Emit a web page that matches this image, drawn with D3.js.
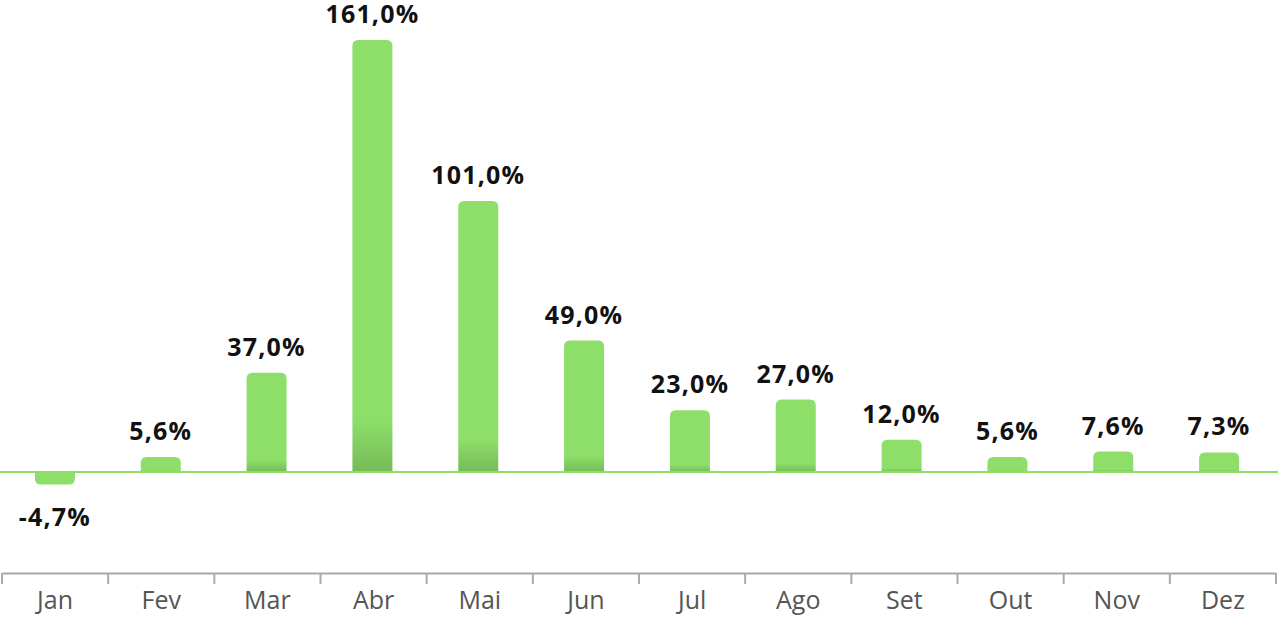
<!DOCTYPE html>
<html>
<head>
<meta charset="utf-8">
<script src="https://cdn.jsdelivr.net/npm/d3@7"></script>
<style>
  html, body { margin: 0; padding: 0; background: #fff; }
  svg { display: block; }
</style>
</head>
<body>
<svg id="chart" width="1278" height="618"></svg>
<script>
const months = ["Jan","Fev","Mar","Abr","Mai","Jun","Jul","Ago","Set","Out","Nov","Dez"];
const values = [-4.7, 5.6, 37.0, 161.0, 101.0, 49.0, 23.0, 27.0, 12.0, 5.6, 7.6, 7.3];
const valueLabels = ["-4,7%","5,6%","37,0%","161,0%","101,0%","49,0%","23,0%","27,0%","12,0%","5,6%","7,6%","7,3%"];

const W = 1278, H = 618;
const svg = d3.select("#chart");

const x = d3.scaleBand().domain(months).range([2, 1276]).padding(0);
const xb = d3.scaleBand().domain(months).range([2, 1272]).padding(0);
const y = d3.scaleLinear().domain([0, 161]).range([472, 40]);
const barW = 40, r = 6;

const defs = svg.append("defs");
const grad = defs.append("linearGradient").attr("id", "barGrad")
  .attr("x1", 0).attr("y1", 0).attr("x2", 0).attr("y2", 1);
grad.append("stop").attr("offset", 0).attr("stop-color", "#8ddf6a");
grad.append("stop").attr("offset", 0.88).attr("stop-color", "#8ddf6a");
grad.append("stop").attr("offset", 1).attr("stop-color", "#76bb57");

function cxOf(m) { return xb(m) + xb.bandwidth() / 2; }

function barPath(d) {
  const cx = cxOf(d.m);
  const x0 = cx - barW / 2, x1 = cx + barW / 2;
  const y0 = y(0), yv = y(d.v);
  const h = Math.abs(y0 - yv);
  const rr = Math.min(r, h);
  if (d.v >= 0) {
    return `M${x0},${y0} L${x0},${yv + rr} Q${x0},${yv} ${x0 + rr},${yv} L${x1 - rr},${yv} Q${x1},${yv} ${x1},${yv + rr} L${x1},${y0} Z`;
  } else {
    return `M${x0},${y0} L${x0},${yv - rr} Q${x0},${yv} ${x0 + rr},${yv} L${x1 - rr},${yv} Q${x1},${yv} ${x1},${yv - rr} L${x1},${y0} Z`;
  }
}

const data = months.map((m, i) => ({ m, v: values[i], label: valueLabels[i] }));

svg.append("g").selectAll("path").data(data).join("path")
  .attr("d", barPath)
  .attr("fill", d => d.v >= 0 ? "url(#barGrad)" : "#8ddf6a");

// zero line
svg.append("line")
  .attr("x1", 0).attr("x2", W)
  .attr("y1", y(0)).attr("y2", y(0))
  .attr("stroke", "#8ddf6a").attr("stroke-width", 2);

// value labels
svg.append("g").selectAll("text").data(data).join("text")
  .attr("x", d => cxOf(d.m))
  .attr("y", d => d.v >= 0 ? y(d.v) - 17 : y(d.v) + 41)
  .attr("text-anchor", "middle")
  .attr("font-family", "'Open Sans', sans-serif")
  .attr("font-weight", "bold")
  .attr("font-size", 25)
  .attr("letter-spacing", 1.2)
  .attr("fill", "#111")
  .text(d => d.label);

// bottom axis
const axis = d3.axisBottom(x).tickSize(0).tickPadding(18);
const ax = svg.append("g").attr("transform", "translate(0,573)").call(axis);
ax.select(".domain").attr("stroke", "#aaa").attr("stroke-width", 2);
ax.selectAll("text")
  .attr("font-family", "'Open Sans', sans-serif")
  .attr("font-size", 25)
  .attr("fill", "#555");
// category separator ticks
const bounds = months.map(m => x(m)).concat([x.range()[1]]);
ax.append("g").selectAll("line").data(bounds).join("line")
  .attr("x1", d => d).attr("x2", d => d)
  .attr("y1", 0).attr("y2", 11)
  .attr("stroke", "#aaa").attr("stroke-width", 2);
</script>
</body>
</html>
